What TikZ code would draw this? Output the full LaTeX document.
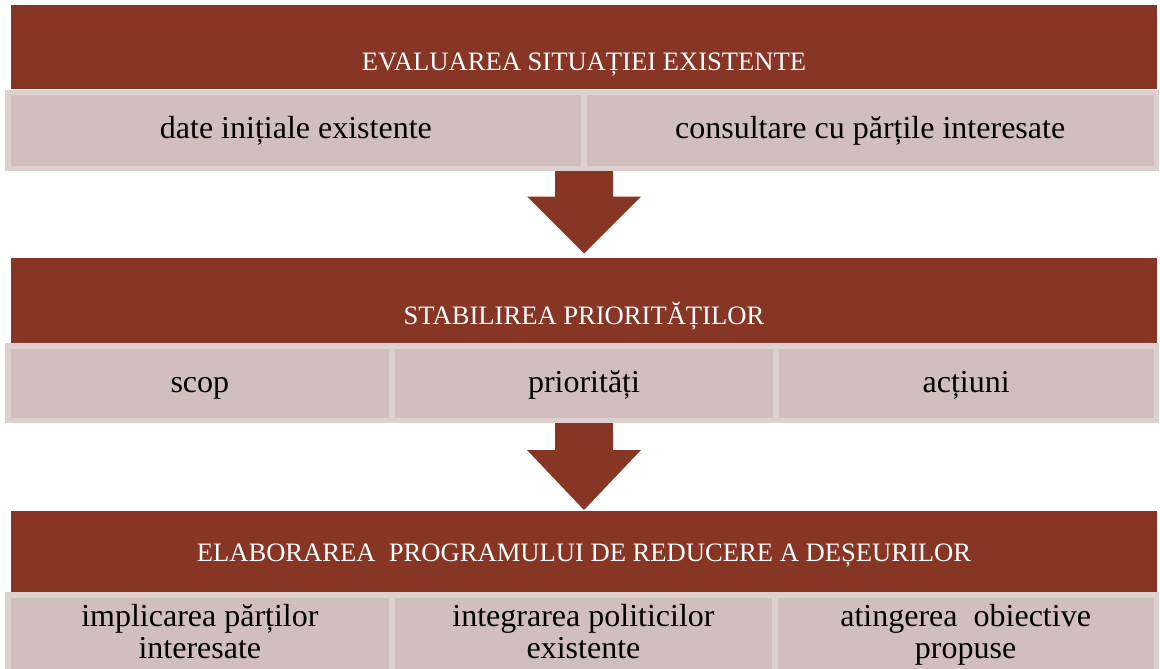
\documentclass[tikz,border=0pt]{standalone}
\usepackage{fontspec}
\setmainfont{Liberation Serif}
\usetikzlibrary{calc}
\definecolor{brick}{HTML}{873524}
\definecolor{cellfill}{HTML}{D0BFBC}
\definecolor{cellline}{HTML}{DDD1CF}

\begin{document}
\begin{tikzpicture}[x=1pt,y=-1pt,
	bar/.style={rectangle,fill=brick,inner sep=0pt,outer sep=0pt,minimum width=1146pt},
	cell/.style={rectangle,fill=cellfill,draw=cellline,line width=5.5pt,inner sep=0pt,outer sep=0pt},
	title/.style={text=white,font=\fontsize{26.6}{30}\selectfont,inner sep=0pt,anchor=base},
	subtext/.style={text=black,font=\fontsize{32}{32}\selectfont,inner sep=0pt,align=center}]
	
	\clip (0,0) rectangle (1160,669);
	\fill[white] (0,0) rectangle (1160,669);
	
	% bars
	\node[bar,minimum height=84pt] (b1) at (584,47) {};
	\node[bar,minimum height=85pt] (b2) at (584,300.5) {};
	\node[bar,minimum height=81pt] (b3) at (584,551.5) {};
	
	% arrows
	\coordinate (a1t) at (584,168.5);
	\coordinate (a1h) at ($(b2.north)+(0,-4.5)$);
	\fill[brick] ($(a1t)+(-29,0)$) -- ($(a1h)+(-29,-57)$) -- ($(a1h)+(-57,-57)$) -- (a1h) -- ($(a1h)+(57,-57)$) -- ($(a1h)+(29,-57)$) -- ($(a1t)+(29,0)$) -- cycle;
	\coordinate (a2t) at (584,420.25);
	\coordinate (a2h) at ($(b3.north)+(0,-1)$);
	\fill[brick] ($(a2t)+(-29,0)$) -- ($(a2h)+(-29,-60)$) -- ($(a2h)+(-57,-60)$) -- (a2h) -- ($(a2h)+(57,-60)$) -- ($(a2h)+(29,-60)$) -- ($(a2t)+(29,0)$) -- cycle;
	
	% cells
	\node[cell,minimum width=576.25pt,minimum height=76pt] (c11) at (295.875,130.5) {};
	\node[cell,minimum width=572.25pt,minimum height=76pt] (c12) at (870.125,130.5) {};
	
	\node[cell,minimum width=384.25pt,minimum height=74.5pt] (c21) at (199.875,383) {};
	\node[cell,minimum width=384pt,minimum height=74.5pt] (c22) at (584,383) {};
	\node[cell,minimum width=380.25pt,minimum height=74.5pt] (c23) at (966.125,383) {};
	
	\node[cell,minimum width=384.25pt,minimum height=105.25pt] (c31) at (199.875,647.375) {};
	\node[cell,minimum width=383pt,minimum height=105.25pt] (c32) at (583.5,647.375) {};
	\node[cell,minimum width=381.25pt,minimum height=105.25pt] (c33) at (965.625,647.375) {};
	
	% texts
	\node[title] (h1) at (b1 |- 0,70.5) {EVALUAREA SITUAȚIEI EXISTENTE};
	\node[title] (h2) at (b2 |- 0,324) {STABILIREA PRIORITĂȚILOR};
	\node[title] (h3) at (b3 |- 0,561) {ELABORAREA\ \ PROGRAMULUI DE REDUCERE A DEȘEURILOR};
	
	\node[subtext,anchor=base] (t11) at (c11 |- 0,138) {date inițiale existente};
	\node[subtext,anchor=base] (t12) at (c12 |- 0,138) {consultare cu părțile interesate};
	
	\node[subtext,anchor=base] (t21) at (c21 |- 0,392) {scop};
	\node[subtext,anchor=base] (t22) at (c22 |- 0,392) {priorități};
	\node[subtext,anchor=base] (t23) at (c23 |- 0,392) {acțiuni};
	
	\node[subtext,anchor=north] (t31) at (c31 |- 0,604) {implicarea părților\\interesate};
	\node[subtext,anchor=north] (t32) at (c32 |- 0,604) {integrarea politicilor\\existente};
	\node[subtext,anchor=north] (t33) at (c33 |- 0,604) {atingerea\ \ obiective\\propuse};
	
\end{tikzpicture}
\end{document}
